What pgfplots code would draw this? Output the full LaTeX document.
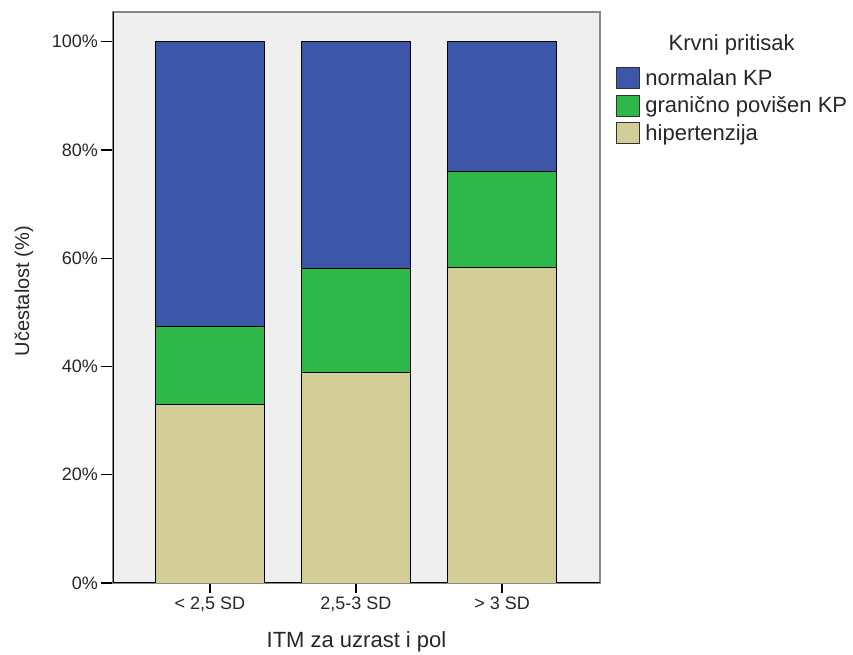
\documentclass[border=0pt]{standalone}
\usepackage{pgfplots}
\pgfplotsset{compat=1.18}
\usepackage{fontspec}
\setmainfont{Liberation Sans}
\definecolor{cblue}{RGB}{61,87,168}
\definecolor{cgreen}{RGB}{46,184,74}
\definecolor{ctan}{RGB}{211,206,152}
\definecolor{cbg}{RGB}{239,239,239}
\definecolor{cframe}{RGB}{135,135,135}
\begin{document}
\begin{tikzpicture}
\useasboundingbox (0bp,0bp) rectangle (853bp,655bp);
\begin{axis}[
  at={(113bp,72bp)}, anchor=south west,
  scale only axis, width=487bp, height=571bp,
  xmin=-0.664, xmax=2.671, ymin=0, ymax=105.5,
  ybar stacked, bar width=109bp,
  axis background/.style={fill=cbg},
  axis line style={draw=cframe, line width=2bp},
  xtick={0,1,2},
  xticklabels={{< 2,5 SD},{2,5-3 SD},{> 3 SD}},
  ytick={0,20,40,60,80,100},
  yticklabels={0\%,20\%,40\%,60\%,80\%,100\%},
  xtick pos=bottom, ytick pos=left,
  tick align=outside,
  major tick length=12bp,
  x tick style={black, line width=1.2bp, /pgfplots/major tick length=10bp},
  y tick style={black, line width=1.2bp},
  ticklabel style={font=\fontsize{18bp}{21bp}\selectfont, text=black!85},
  yticklabel style={inner sep=3bp},
  xticklabel style={inner sep=2bp},
  xlabel={ITM za uzrast i pol},
  ylabel={Učestalost (\%)},
  x label style={at={(axis description cs:0.5,-0.1028)}, anchor=center, font=\fontsize{22bp}{26bp}\selectfont, text=black!85},
  y label style={at={(axis description cs:-0.1828,0.511)}, anchor=center, font=\fontsize{20bp}{24bp}\selectfont, text=black!85},
  legend image code/.code={\draw[#1, draw=black!80, line width=1.2bp] (0bp,-10.5bp) rectangle (23bp,10.5bp);},
  reverse legend,
  legend cell align=left,
  legend style={at={(axis description cs:1.0329,0.9042)}, anchor=north west, draw=none, fill=none,
    inner sep=0pt, row sep=5.5bp, column sep=5bp,
    font=\fontsize{22bp}{26bp}\selectfont, text=black!85,
    nodes={inner sep=0pt}},
]
\addplot+[fill=ctan, draw=black, line width=1bp] coordinates {(0,33.0) (1,38.8) (2,58.3)};
\addlegendentry{hipertenzija}
\addplot+[fill=cgreen, draw=black, line width=1bp] coordinates {(0,14.3) (1,19.3) (2,17.7)};
\addlegendentry{granično povišen KP}
\addplot+[fill=cblue, draw=black, line width=1bp] coordinates {(0,52.7) (1,41.9) (2,24.0)};
\addlegendentry{normalan KP}
\draw[black, line width=1.5bp] (rel axis cs:0,1) -- (rel axis cs:0,0) -- (rel axis cs:1,0);
\end{axis}
\node[font=\fontsize{22bp}{26bp}\selectfont, text=black!85, anchor=center] at (731.7bp,610bp) {Krvni pritisak};
\end{tikzpicture}
\end{document}
